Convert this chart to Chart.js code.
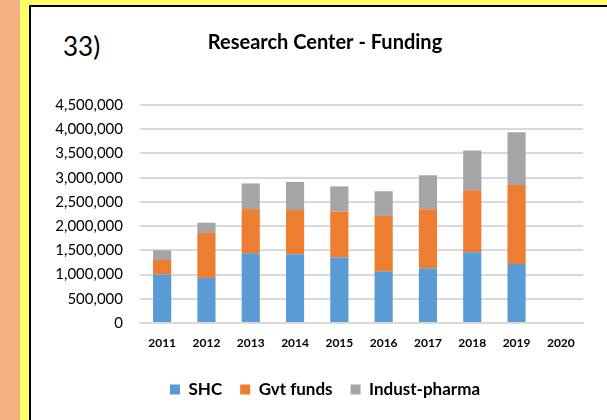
<!DOCTYPE html>
<html>
<head>
<meta charset="utf-8">
<script src="https://cdn.jsdelivr.net/npm/chart.js@4"></script>
<style>
  html, body { margin: 0; padding: 0; }
  body { width: 607px; height: 420px; position: relative; overflow: hidden; background: #F4B183; font-family: Lato, "Liberation Sans", sans-serif; }
  .frame { position: absolute; left: 20px; top: 0; width: 587px; height: 420px; background: #FFFF66; }
  .card { position: absolute; left: 29px; top: 5px; width: 600px; height: 430px; background: #fff; border: 2px solid #000; }
  .num { position: absolute; left: 63px; top: 30px; font-size: 26px; color: #000; }
  canvas { position: absolute; left: 0; top: 0; }
</style>
</head>
<body>
<div class="frame"></div>
<div class="card"></div>
<div class="num">33)</div>
<canvas id="chart" width="630" height="420"></canvas>
<script>
var years = ["2011", "2012", "2013", "2014", "2015", "2016", "2017", "2018", "2019", "2020"];
var shc = [1000000, 930000, 1440000, 1420000, 1350000, 1060000, 1130000, 1460000, 1220000, null];
var gvtFunds = [300000, 930000, 910000, 910000, 950000, 1150000, 1220000, 1280000, 1630000, null];
var industPharma = [200000, 210000, 530000, 580000, 520000, 510000, 700000, 820000, 1090000, null];
var yTicks = [0, 500000, 1000000, 1500000, 2000000, 2500000, 3000000, 3500000, 4000000, 4500000];

document.addEventListener("DOMContentLoaded", function () {
  var font = "Lato, 'Liberation Sans', sans-serif";
  function ds(label, data, color) {
    return { label: label, data: data, backgroundColor: color, borderWidth: 0, barPercentage: 0.41, categoryPercentage: 1 };
  }
  new Chart(document.getElementById("chart"), {
    type: "bar",
    data: {
      labels: years,
      datasets: [
        ds("SHC", shc, "#5B9BD5"),
        ds("Gvt funds", gvtFunds, "#ED7D31"),
        ds("Indust-pharma", industPharma, "#A5A5A5")
      ]
    },
    options: {
      responsive: false,
      animation: false,
      layout: { padding: { left: 30, right: 10, top: 7, bottom: 12 } },
      plugins: {
        title: { display: true, text: "Research Center - Funding", color: "#000", font: { family: font, size: 20, weight: "bold" }, padding: { top: 24, bottom: 50 } },
        legend: {
          position: "bottom",
          labels: { color: "#000", boxWidth: 10, boxHeight: 10, padding: 18, font: { family: font, size: 17, weight: "bold" } }
        },
        tooltip: { enabled: false }
      },
      scales: {
        x: {
          stacked: true,
          grid: { display: false, drawTicks: false },
          border: { color: "#D9D9D9", width: 2 },
          ticks: { color: "#000", padding: 13, font: { family: font, size: 12, weight: "bold" } },
          afterFit: function (scale) { scale.height = 40; }
        },
        y: {
          stacked: true,
          min: 0,
          max: 4500000,
          afterBuildTicks: function (scale) { scale.ticks = yTicks.map(function (v) { return { value: v }; }); },
          grid: { color: "#D9D9D9", lineWidth: 2, drawTicks: false },
          border: { display: false },
          ticks: {
            color: "#000", padding: 17, font: { family: font, size: 15 },
            callback: function (v) { return v.toLocaleString("en-US"); }
          },
          afterFit: function (scale) { scale.width = 110; }
        },
        // empty right-hand box: the original's plot sits left of the card centre
        yRight: {
          position: "right",
          grid: { display: false, drawTicks: false },
          border: { display: false },
          ticks: { display: false },
          afterFit: function (scale) { scale.width = 37; }
        }
      }
    }
  });
});
</script>
</body>
</html>
